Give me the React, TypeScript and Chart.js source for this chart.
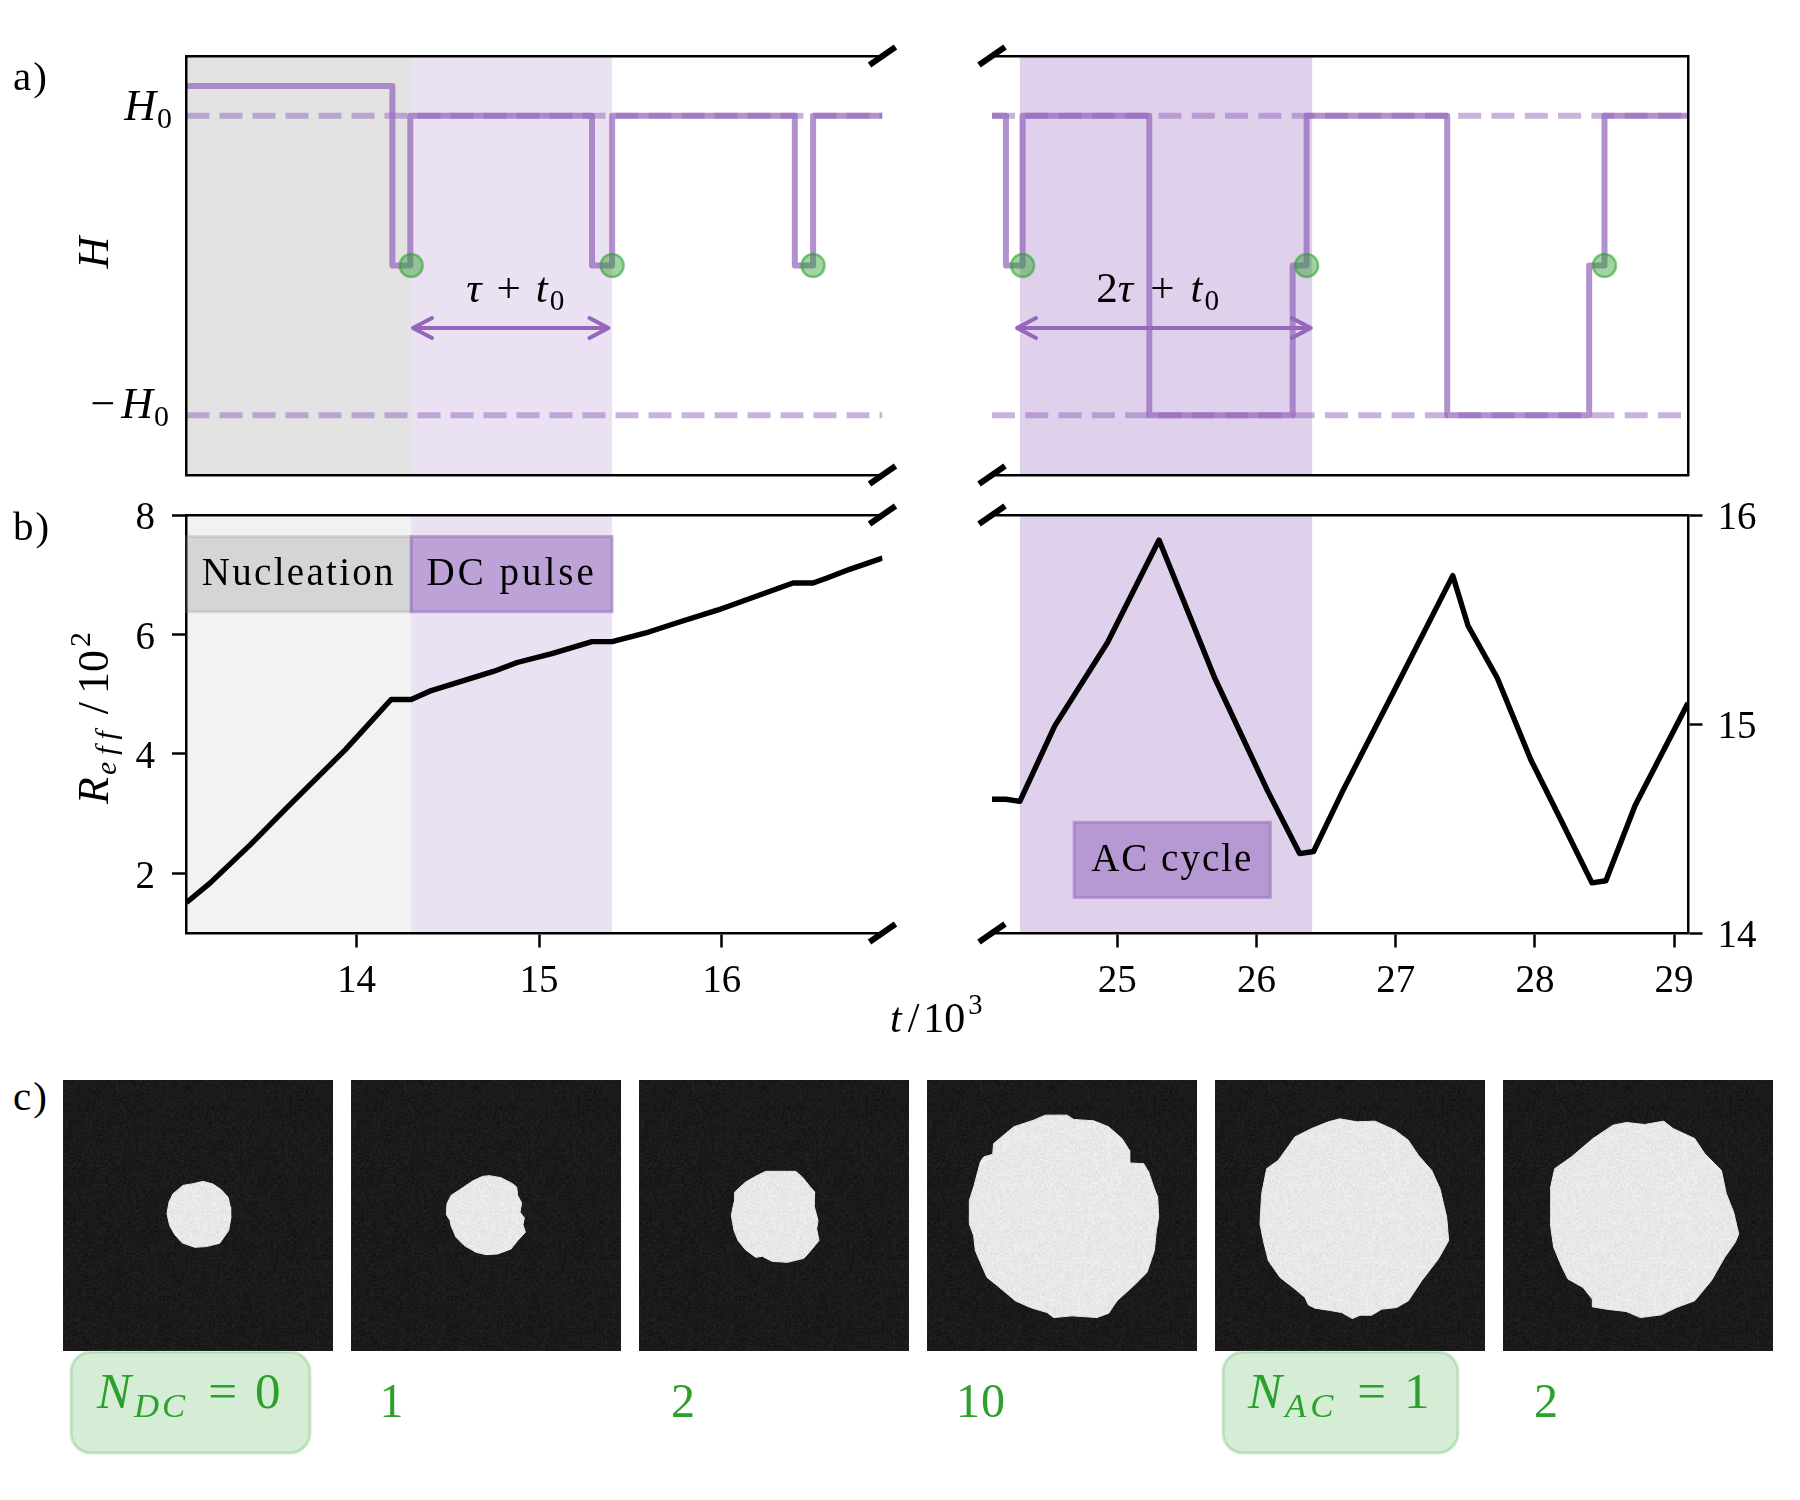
import React, { useEffect, useRef } from "react";
import { Chart, registerables } from "chart.js";

Chart.register(...registerables);

const FONT = '"Liberation Serif"';
const PURPLE = "#9467bd";
const GREEN = "#2ca02c";

// ---- Panel a: applied field H(t)
const hLeftT = [13.07, 14.197, 14.197, 14.295, 14.295, 15.29, 15.29, 15.4, 15.4, 16.4, 16.4, 16.5, 16.5, 16.88];
const hLeftV = [1.2, 1.2, 0, 0, 1, 1, 0, 0, 1, 1, 0, 0, 1, 1];
const hRightT = [24.1, 24.2, 24.2, 24.32, 24.32, 25.23, 25.23, 26.26, 26.26, 26.36, 26.36, 27.37, 27.37, 28.39, 28.39, 28.5, 28.5, 29.1];
const hRightV = [1, 1, 0, 0, 1, 1, -1, -1, 0, 0, 1, 1, -1, -1, 0, 0, 1, 1];
const levelsH = [1, -1];
const dotsLeftT = [14.3, 15.4, 16.5];
const dotsRightT = [24.32, 26.36, 28.5];

// ---- Panel b: effective radius
const rLeftT = [13.07, 13.2, 13.42, 13.62, 13.94, 14.19, 14.3, 14.41, 14.75, 14.88, 15.07, 15.29, 15.4, 15.6, 15.76, 15.98, 16.39, 16.5, 16.58, 16.7, 16.88];
const rLeftV = [1.51, 1.84, 2.48, 3.1, 4.07, 4.91, 4.91, 5.06, 5.38, 5.53, 5.68, 5.88, 5.88, 6.04, 6.2, 6.41, 6.86, 6.86, 6.95, 7.09, 7.28];
const rRightT = [24.1, 24.2, 24.3, 24.55, 24.93, 25.3, 25.7, 26.08, 26.31, 26.41, 26.62, 26.99, 27.41, 27.52, 27.73, 27.97, 28.18, 28.41, 28.51, 28.72, 29.1];
const rRightV = [14.64, 14.64, 14.63, 14.99, 15.39, 15.88, 15.22, 14.68, 14.38, 14.39, 14.68, 15.16, 15.71, 15.47, 15.22, 14.83, 14.55, 14.24, 14.25, 14.61, 15.1];

// ---- Axis ticks
const xTicksLeft = [14, 15, 16];
const xTicksRight = [25, 26, 27, 28, 29];
const yTicksLeft = [2, 4, 6, 8];
const yTicksRight = [14, 15, 16];

// ---- Panel c: domain outlines (0..810 image units)
const blob1 = [[420,303],[450,311],[475,328],[495,350],[502,380],[503,415],[497,450],[470,488],[430,498],[395,500],[358,487],[335,462],[320,435],[312,400],[318,365],[330,340],[360,315],[390,310]];
const blob2 = [[415,286],[450,292],[485,310],[497,320],[500,345],[512,368],[507,395],[520,412],[516,432],[523,455],[500,480],[480,505],[440,520],[405,522],[375,515],[340,495],[315,470],[300,435],[297,420],[286,402],[288,370],[300,345],[335,322],[365,302],[395,288]];
const blob3 = [[380,273],[470,273],[490,290],[510,315],[527,335],[525,375],[537,420],[533,445],[540,480],[515,510],[495,533],[445,545],[400,542],[385,535],[370,527],[350,530],[320,508],[297,480],[285,450],[277,405],[285,365],[287,335],[320,305],[350,288]];
const blob4 = [[355,105],[420,105],[440,118],[500,122],[545,140],[585,175],[607,210],[608,248],[650,250],[665,275],[682,325],[692,350],[695,410],[688,450],[682,510],[660,575],[620,615],[570,660],[545,697],[510,710],[435,705],[380,710],[360,695],[310,680],[265,660],[215,618],[180,590],[160,545],[145,510],[140,465],[127,430],[127,360],[140,320],[160,245],[170,230],[197,222],[200,190],[260,140],[320,120]];
const blob5 = [[375,116],[425,125],[480,123],[540,150],[580,180],[610,225],[650,270],[675,325],[695,410],[701,480],[670,535],[620,600],[580,660],[545,680],[500,685],[470,703],[435,703],[412,713],[380,695],[340,688],[300,682],[280,672],[270,650],[240,625],[195,590],[160,540],[145,480],[135,430],[140,340],[155,265],[190,240],[240,170],[290,145],[340,125]];
const blob6 = [[370,127],[425,133],[482,123],[510,145],[575,175],[605,220],[655,270],[670,340],[692,395],[707,460],[697,485],[665,530],[625,600],[575,660],[520,680],[475,702],[412,710],[370,692],[310,685],[268,678],[268,655],[240,620],[195,595],[175,555],[152,500],[142,430],[143,320],[155,265],[205,230],[270,175],[330,135]];
const blobs = [blob1, blob2, blob3, blob4, blob5, blob6];
const imageLeft = [63, 351, 639, 927, 1215, 1503];

type Seg = { t: string; i?: boolean; sub?: boolean; sup?: boolean; gap?: number; ls?: number };

function segFont(s: Seg, size: number) {
  const px = s.sub || s.sup ? size * 0.68 : size;
  return `${s.i ? "italic " : ""}${px}px ${FONT}`;
}

function drawRich(ctx: any, segs: Seg[], x: number, y: number, size: number, color: string, align = "left", rot = 0) {
  ctx.save();
  ctx.translate(x, y);
  ctx.rotate(rot);
  ctx.fillStyle = color;
  ctx.textBaseline = "alphabetic";
  ctx.textAlign = "left";
  let w = 0;
  const widths = segs.map((s) => {
    ctx.font = segFont(s, size);
    ctx.letterSpacing = `${s.ls || 0}px`;
    const m = ctx.measureText(s.t).width;
    w += m + (s.gap || 0);
    return m;
  });
  let cx = align === "right" ? -w : align === "center" ? -w / 2 : 0;
  segs.forEach((s, k) => {
    cx += s.gap || 0;
    ctx.font = segFont(s, size);
    ctx.letterSpacing = `${s.ls || 0}px`;
    const dy = s.sub ? size * 0.18 : s.sup ? -size * 0.42 : 0;
    ctx.fillText(s.t, cx, dy);
    cx += widths[k];
  });
  ctx.restore();
}

function pts(xs: number[], ys: number[]) {
  return xs.map((x, i) => ({ x, y: ys[i] }));
}

function lineSet(xs: number[], ys: number[], color: string, width: number, order: number, dash?: number[]) {
  return {
    type: "scatter",
    data: pts(xs, ys),
    showLine: true,
    borderColor: color,
    borderWidth: width,
    borderDash: dash || [],
    borderJoinStyle: "round",
    borderCapStyle: "butt",
    pointRadius: 0,
    tension: 0,
    order,
    xAxisID: "x",
    yAxisID: "y",
  };
}

function dotSet(xs: number[]) {
  return {
    type: "scatter",
    data: xs.map((x) => ({ x, y: 0 })),
    showLine: false,
    pointRadius: 11.5,
    pointBackgroundColor: "rgba(44,160,44,0.45)",
    pointBorderColor: "rgba(44,160,44,0.55)",
    pointBorderWidth: 2.5,
    order: 0,
    xAxisID: "x",
    yAxisID: "y",
  };
}

const SPINE = 2.5;
const TICK = 14.5;

function xScale(min: number, max: number, ticks: number[], position: string, h: number, labelled: boolean) {
  return {
    type: "linear",
    axis: "x",
    position,
    min,
    max,
    afterBuildTicks: (s: any) => {
      s.ticks = ticks.map((value) => ({ value }));
    },
    afterFit: (s: any) => {
      s.height = h;
    },
    border: { display: true, color: "#000", width: SPINE, z: 1 },
    grid: { drawOnChartArea: false, drawTicks: labelled, tickLength: TICK, tickWidth: SPINE, tickColor: "#000" },
    ticks: {
      display: labelled,
      autoSkip: false,
      maxRotation: 0,
      minRotation: 0,
      padding: 10.5,
      color: "#000",
      font: { family: FONT, size: 39 },
      callback: (v: any) => String(v),
    },
  };
}

function yScale(min: number, max: number, ticks: number[], position: string, w: number, labelled: boolean, pad: number) {
  return {
    type: "linear",
    axis: "y",
    position,
    min,
    max,
    afterBuildTicks: (s: any) => {
      s.ticks = ticks.map((value) => ({ value }));
    },
    afterFit: (s: any) => {
      s.width = w;
    },
    border: { display: true, color: "#000", width: SPINE, z: 1 },
    grid: { drawOnChartArea: false, drawTicks: labelled, tickLength: TICK, tickWidth: SPINE, tickColor: "#000" },
    ticks: {
      display: labelled,
      autoSkip: false,
      padding: pad,
      labelOffset: 4,
      color: "#000",
      font: { family: FONT, size: 39 },
      callback: (v: any) => String(v),
    },
  };
}

type Span = { from: number; to: number; color: string };

function drawSpans(chart: any, spans: Span[]) {
  const { ctx, chartArea, scales } = chart;
  spans.forEach((s) => {
    const a = scales.x.getPixelForValue(s.from);
    const b = scales.x.getPixelForValue(s.to);
    ctx.fillStyle = s.color;
    ctx.fillRect(a, chartArea.top, b - a, chartArea.bottom - chartArea.top);
  });
}

function drawBreak(ctx: any, x: number, y: number) {
  ctx.save();
  ctx.strokeStyle = "#000";
  ctx.lineWidth = 6;
  ctx.lineCap = "butt";
  ctx.beginPath();
  ctx.moveTo(x - 13, y + 9);
  ctx.lineTo(x + 13, y - 9);
  ctx.stroke();
  ctx.restore();
}

function drawArrow(chart: any, from: number, to: number, value: number) {
  const { ctx, scales } = chart;
  const a = scales.x.getPixelForValue(from);
  const b = scales.x.getPixelForValue(to);
  const y = scales.y.getPixelForValue(value);
  ctx.save();
  ctx.strokeStyle = PURPLE;
  ctx.lineWidth = 4;
  ctx.lineCap = "round";
  ctx.lineJoin = "round";
  ctx.beginPath();
  ctx.moveTo(a, y);
  ctx.lineTo(b, y);
  ctx.moveTo(a + 19, y - 10);
  ctx.lineTo(a, y);
  ctx.lineTo(a + 19, y + 10);
  ctx.moveTo(b - 19, y - 10);
  ctx.lineTo(b, y);
  ctx.lineTo(b - 19, y + 10);
  ctx.stroke();
  ctx.restore();
}

function drawBox(chart: any, x0: number, x1: number, y0: number, y1: number, fill: string, stroke: string) {
  const { ctx, scales } = chart;
  const a = scales.x.getPixelForValue(x0);
  const b = scales.x.getPixelForValue(x1);
  const c = scales.y.getPixelForValue(y0);
  const d = scales.y.getPixelForValue(y1);
  ctx.save();
  ctx.fillStyle = fill;
  ctx.fillRect(a, c, b - a, d - c);
  ctx.strokeStyle = stroke;
  ctx.lineWidth = 3;
  ctx.strokeRect(a, c, b - a, d - c);
  ctx.restore();
}

const GRAY_A = "rgba(128,128,128,0.22)";
const GRAY_B = "rgba(128,128,128,0.10)";
const PURPLE_20 = "rgba(148,103,189,0.20)";
const PURPLE_30 = "rgba(148,103,189,0.30)";

const spansATopLeft: Span[] = [
  { from: 13.07, to: 14.3, color: GRAY_A },
  { from: 14.3, to: 15.4, color: PURPLE_20 },
];
const spansBLeft: Span[] = [
  { from: 13.07, to: 14.3, color: GRAY_B },
  { from: 14.3, to: 15.4, color: PURPLE_20 },
];
const spansRight: Span[] = [{ from: 24.3, to: 26.4, color: PURPLE_30 }];

function baseOptions(scales: any, padding: any) {
  return {
    responsive: false,
    maintainAspectRatio: false,
    animation: false,
    events: [],
    layout: { padding },
    plugins: { legend: { display: false }, tooltip: { enabled: false } },
    scales,
  };
}

const DASH_COLOR = "rgba(148,103,189,0.5)";
const STEP_COLOR = "rgba(148,103,189,0.72)";
const LINE_W = 6;
const CURVE_W = 5.4;

function chartAL(canvas: HTMLCanvasElement) {
  return new Chart(canvas, {
    type: "scatter",
    data: {
      datasets: [
        lineSet([13.07, 16.88], [levelsH[0], levelsH[0]], DASH_COLOR, 6, 3, [23, 10]),
        lineSet([13.07, 16.88], [levelsH[1], levelsH[1]], DASH_COLOR, 6, 3, [23, 10]),
        lineSet(hLeftT, hLeftV, STEP_COLOR, LINE_W, 2),
        dotSet(dotsLeftT),
      ],
    },
    options: baseOptions(
      {
        x: xScale(13.07, 16.88, [], "bottom", 25, false),
        xt: xScale(13.07, 16.88, [], "top", 36, false),
        y: yScale(-1.4, 1.4, [], "left", 186.5, false, 0),
      },
      { left: 0, right: 37.5, top: 0, bottom: 0 }
    ),
    plugins: [
      {
        id: "decor",
        beforeDatasetsDraw(c: any) {
          drawSpans(c, spansATopLeft);
        },
        afterDraw(c: any) {
          const { ctx, chartArea, scales } = c;
          drawBreak(ctx, chartArea.right, chartArea.top);
          drawBreak(ctx, chartArea.right, chartArea.bottom);
          drawArrow(c, 14.31, 15.38, -0.418);
          drawRich(ctx, [{ t: "τ", i: true }, { t: "+", gap: 15 }, { t: "t", i: true, gap: 15 }, { t: "0", sub: true, gap: 2 }],
            scales.x.getPixelForValue(14.87), scales.y.getPixelForValue(-0.245), 43, "#000", "center");
          drawRich(ctx, [{ t: "H", i: true }, { t: "0", sub: true, gap: 1 }], 172, scales.y.getPixelForValue(levelsH[0]) + 4, 44, "#000", "right");
          drawRich(ctx, [{ t: "−" }, { t: "H", i: true, gap: 6 }, { t: "0", sub: true, gap: 1 }], 169, scales.y.getPixelForValue(levelsH[1]) + 3, 44, "#000", "right");
          drawRich(ctx, [{ t: "H", i: true }], 108, (chartArea.top + chartArea.bottom) / 2 - 13, 44, "#000", "center", -Math.PI / 2);
        },
      },
    ],
  } as any);
}

function chartAR(canvas: HTMLCanvasElement) {
  return new Chart(canvas, {
    type: "scatter",
    data: {
      datasets: [
        lineSet([24.1, 29.1], [levelsH[0], levelsH[0]], DASH_COLOR, 6, 3, [23, 10.3]),
        lineSet([24.1, 29.1], [levelsH[1], levelsH[1]], DASH_COLOR, 6, 3, [23, 10.3]),
        lineSet(hRightT, hRightV, STEP_COLOR, LINE_W, 2),
        dotSet(dotsRightT),
      ],
    },
    options: baseOptions(
      {
        x: xScale(24.1, 29.1, [], "bottom", 25, false),
        xt: xScale(24.1, 29.1, [], "top", 36, false),
        y: yScale(-1.4, 1.4, [], "right", 102, false, 0),
      },
      { left: 32, right: 0, top: 0, bottom: 0 }
    ),
    plugins: [
      {
        id: "decor",
        beforeDatasetsDraw(c: any) {
          drawSpans(c, spansRight);
        },
        afterDraw(c: any) {
          const { ctx, chartArea, scales } = c;
          drawBreak(ctx, chartArea.left, chartArea.top);
          drawBreak(ctx, chartArea.left, chartArea.bottom);
          drawArrow(c, 24.28, 26.39, -0.418);
          drawRich(ctx, [{ t: "2" }, { t: "τ", i: true }, { t: "+", gap: 17 }, { t: "t", i: true, gap: 16 }, { t: "0", sub: true, gap: 2 }],
            scales.x.getPixelForValue(25.29), scales.y.getPixelForValue(-0.245), 43, "#000", "center");
        },
      },
    ],
  } as any);
}

function chartBL(canvas: HTMLCanvasElement) {
  return new Chart(canvas, {
    type: "scatter",
    data: { datasets: [lineSet(rLeftT, rLeftV, "#000", CURVE_W, 1)] },
    options: baseOptions(
      {
        x: xScale(13.07, 16.88, xTicksLeft, "bottom", 117, true),
        xt: xScale(13.07, 16.88, [], "top", 55, false),
        y: yScale(1, 8, yTicksLeft, "left", 186.5, true, 17),
      },
      { left: 0, right: 117.5, top: 0, bottom: 0 }
    ),
    plugins: [
      {
        id: "decor",
        beforeDatasetsDraw(c: any) {
          drawSpans(c, spansBLeft);
        },
        afterDraw(c: any) {
          const { ctx, chartArea, scales } = c;
          drawBreak(ctx, chartArea.right, chartArea.top);
          drawBreak(ctx, chartArea.right, chartArea.bottom);
          drawBox(c, 13.07, 14.3, 7.64, 6.38, "rgba(128,128,128,0.25)", "rgba(128,128,128,0.22)");
          drawBox(c, 14.3, 15.4, 7.64, 6.38, "rgba(148,103,189,0.52)", "rgba(148,103,189,0.5)");
          const base = scales.y.getPixelForValue(6.38) - 27;
          ctx.save();
          ctx.font = `39px ${FONT}`;
          ctx.fillStyle = "#000";
          ctx.textAlign = "center";
          ctx.textBaseline = "alphabetic";
          ctx.letterSpacing = "2.3px";
          ctx.fillText("Nucleation", scales.x.getPixelForValue(13.685), base);
          ctx.letterSpacing = "3px";
          ctx.fillText("DC pulse", scales.x.getPixelForValue(14.85), base);
          ctx.restore();
          const mid = (chartArea.top + chartArea.bottom) / 2;
          drawRich(ctx, [{ t: "R", i: true }, { t: "eff", i: true, sub: true, ls: 7, gap: 2 }, { t: "/", gap: 10 }, { t: "10", gap: 8 }, { t: "2", sup: true, gap: 3 }],
            108, mid - 6, 44, "#000", "center", -Math.PI / 2);
          drawRich(ctx, [{ t: "t", i: true }, { t: "/", gap: 6 }, { t: "10", gap: 4 }, { t: "3", sup: true, gap: 3 }], 890, 1032 - 460, 42, "#000");
        },
      },
    ],
  } as any);
}

function chartBR(canvas: HTMLCanvasElement) {
  return new Chart(canvas, {
    type: "scatter",
    data: { datasets: [lineSet(rRightT, rRightV, "#000", CURVE_W, 1)] },
    options: baseOptions(
      {
        x: xScale(24.1, 29.1, xTicksRight, "bottom", 117, true),
        xt: xScale(24.1, 29.1, [], "top", 55, false),
        y: yScale(14, 16, yTicksRight, "right", 102, true, 15),
      },
      { left: 32, right: 0, top: 0, bottom: 0 }
    ),
    plugins: [
      {
        id: "decor",
        beforeDatasetsDraw(c: any) {
          drawSpans(c, spansRight);
        },
        afterDraw(c: any) {
          const { ctx, chartArea, scales } = c;
          drawBreak(ctx, chartArea.left, chartArea.top);
          drawBreak(ctx, chartArea.left, chartArea.bottom);
          drawBox(c, 24.69, 26.1, 14.53, 14.17, "rgba(148,103,189,0.55)", "rgba(148,103,189,0.5)");
          ctx.save();
          ctx.letterSpacing = "2px";
          ctx.font = `39px ${FONT}`;
          ctx.fillStyle = "#000";
          ctx.textAlign = "center";
          ctx.textBaseline = "alphabetic";
          ctx.fillText("AC cycle", scales.x.getPixelForValue(25.395), scales.y.getPixelForValue(14.165) - 28);
          ctx.restore();
        },
      },
    ],
  } as any);
}

function addGrain(ctx: any, area: any) {
  const w = Math.round(area.right - area.left);
  const h = Math.round(area.bottom - area.top);
  const img = ctx.getImageData(Math.round(area.left), Math.round(area.top), w, h);
  const d = img.data;
  for (let y = 0; y < h; y++) {
    const cy = Math.floor(y / 1.35);
    for (let x = 0; x < w; x++) {
      const cx = Math.floor(x / 1.35);
      let n = Math.imul(cx, 73856093) ^ Math.imul(cy, 19349663);
      n = Math.imul(n ^ (n >>> 13), 1274126177);
      const t = ((n >>> 16) & 255) / 255 - 0.5;
      const i = (y * w + x) * 4;
      const v = d[i] + t * (d[i] > 128 ? 14 : 13);
      d[i] = v;
      d[i + 1] = v;
      d[i + 2] = v;
    }
  }
  ctx.putImageData(img, Math.round(area.left), Math.round(area.top));
}

function imageChart(canvas: HTMLCanvasElement, index: number) {
  const outline = blobs[index].concat([blobs[index][0]]);
  return new Chart(canvas, {
    type: "scatter",
    data: {
      datasets: [
        {
          data: outline.map((p) => ({ x: p[0], y: p[1] })),
          showLine: true,
          borderColor: "#e8e8e8",
          borderWidth: 1,
          pointRadius: 0,
          tension: 0,
          clip: false,
        },
      ],
    },
    options: baseOptions(
      {
        x: { type: "linear", min: 0, max: 810, display: false },
        y: { type: "linear", min: 0, max: 810, reverse: true, display: false },
      },
      { left: 0, right: 30, top: 0, bottom: 109 }
    ),
    plugins: [
      {
        id: "image",
        beforeDatasetsDraw(c: any) {
          const { ctx, chartArea } = c;
          ctx.fillStyle = "#1a1a1a";
          ctx.fillRect(chartArea.left, chartArea.top, chartArea.right - chartArea.left, chartArea.bottom - chartArea.top);
        },
        afterDatasetsDraw(c: any) {
          const { ctx, chartArea } = c;
          const els = c.getDatasetMeta(0).data;
          ctx.save();
          ctx.fillStyle = "#e8e8e8";
          ctx.beginPath();
          els.forEach((el: any, k: number) => (k ? ctx.lineTo(el.x, el.y) : ctx.moveTo(el.x, el.y)));
          ctx.closePath();
          ctx.fill();
          ctx.restore();
          addGrain(ctx, chartArea);
        },
        afterDraw(c: any) {
          const { ctx } = c;
          const box = (x0: number, x1: number) => {
            ctx.save();
            ctx.beginPath();
            ctx.roundRect(x0 - imageLeft[index], 272, x1 - x0, 101, 20);
            ctx.fillStyle = "rgba(44,160,44,0.2)";
            ctx.fill();
            ctx.strokeStyle = "rgba(44,160,44,0.22)";
            ctx.lineWidth = 3;
            ctx.stroke();
            ctx.restore();
          };
          if (index === 0) {
            box(71, 310);
            drawRich(ctx, [{ t: "N", i: true }, { t: "DC", i: true, sub: true, ls: 3, gap: 3 }, { t: "=", gap: 20 }, { t: "0", gap: 18 }], 97 - imageLeft[0], 328, 51, GREEN);
          } else if (index === 4) {
            box(1223, 1458);
            drawRich(ctx, [{ t: "N", i: true }, { t: "AC", i: true, sub: true, ls: 4, gap: 3 }, { t: "=", gap: 20 }, { t: "1", gap: 18 }], 1248 - imageLeft[4], 328, 51, GREEN);
          } else {
            const centre = [0, 391.5, 683, 981, 0, 1546][index];
            const text = ["", "1", "2", "10", "", "2"][index];
            drawRich(ctx, [{ t: text, ls: text.length > 1 ? 1 : 0 }], centre - imageLeft[index], 337, 48, GREEN, "center");
          }
        },
      },
    ],
  } as any);
}

const panelDefs: { left: number; top: number; width: number; height: number; make: (c: HTMLCanvasElement) => any }[] = [
  { left: 0, top: 20, width: 920, height: 480, make: chartAL },
  { left: 960, top: 20, width: 830, height: 480, make: chartAR },
  { left: 0, top: 460, width: 1000, height: 590, make: chartBL },
  { left: 960, top: 460, width: 830, height: 590, make: chartBR },
  ...imageLeft.map((left, i) => ({
    left,
    top: 1080,
    width: 300,
    height: 380,
    make: (c: HTMLCanvasElement) => imageChart(c, i),
  })),
];

const panelTags = [
  { text: "a)", top: 52 },
  { text: "b)", top: 502 },
  { text: "c)", top: 1072 },
];

export default function App() {
  const refs = useRef<(HTMLCanvasElement | null)[]>([]);
  useEffect(() => {
    const charts = panelDefs.map((p, i) => p.make(refs.current[i] as HTMLCanvasElement));
    return () => charts.forEach((c) => c.destroy());
  }, []);
  return (
    <div style={{ position: "absolute", left: 0, top: 0, width: 1800, height: 1500, background: "#fff", overflow: "hidden" }}>
      {panelDefs.map((p, i) => (
        <canvas
          key={i}
          ref={(el) => {
            refs.current[i] = el;
          }}
          width={p.width}
          height={p.height}
          style={{ position: "absolute", left: p.left, top: p.top, width: p.width, height: p.height }}
        />
      ))}
      {panelTags.map((t) => (
        <span key={t.text} style={{ position: "absolute", left: 13, top: t.top, font: `41px ${FONT}`, color: "#000", letterSpacing: 2 }}>
          {t.text}
        </span>
      ))}
    </div>
  );
}
